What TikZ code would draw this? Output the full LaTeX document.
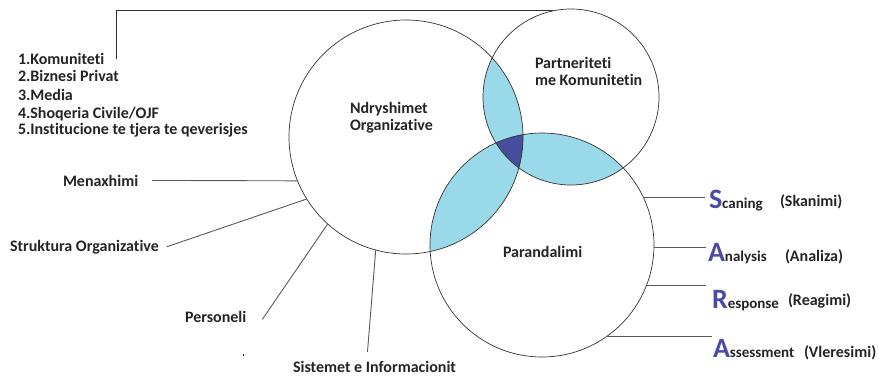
\documentclass[tikz,border=0pt]{standalone}
\usepackage{fontspec}
\setmainfont{Carlito}[Ligatures={NoCommon}]
\usetikzlibrary{positioning}

\definecolor{lensblue}{RGB}{153,217,234}
\definecolor{coreblue}{RGB}{72,78,158}
\definecolor{saraletter}{RGB}{75,75,165}
\definecolor{inkgray}{RGB}{35,35,40}

\begin{document}
\begin{tikzpicture}[x=1pt, y=-1pt,
  ring/.style={circle, draw=black!80, line width=0.7pt, inner sep=0, outer sep=0},
  lbl/.style={font=\fontsize{16}{17}\selectfont\bfseries, text=inkgray, inner sep=0, outer sep=0},
  tie/.style={draw=black!65, line width=0.9pt}]

\useasboundingbox (0,0) rectangle (879,376);

% centres of the three circles
\coordinate (orgc) at (406,137);
\coordinate (parc) at (571,97);
\coordinate (prvc) at (542,245);

% lenses
\begin{scope}
  \clip (orgc) circle (117pt);
  \fill [lensblue] (parc) circle (88pt);
\end{scope}
\begin{scope}
  \clip (orgc) circle (117pt);
  \fill [lensblue] (prvc) circle (112pt);
\end{scope}
\begin{scope}
  \clip (parc) circle (88pt);
  \fill [lensblue] (prvc) circle (112pt);
\end{scope}
\begin{scope}
  \clip (orgc) circle (117pt);
  \clip (parc) circle (88pt);
  \fill [coreblue] (prvc) circle (112pt);
\end{scope}

% circles
\node [ring, minimum size=234pt] (org) at (orgc) {};
\node [ring, minimum size=176pt] (part) at (parc) {};
\node [ring, minimum size=224pt] (prev) at (prvc) {};

% circle titles
\node [lbl, align=left, anchor=base west] (orgtxt) at (350,130) {Ndryshimet\\Organizative};
\node [lbl, align=left, anchor=base west] (parttxt) at (535,85) {Partneriteti\\me Komunitetin};
\node [lbl, anchor=base west] (prevtxt) at (503,257) {Parandalimi};

% partners list
\node [lbl, anchor=base west] (k1) at (18,64) {1.Komuniteti};
\node [lbl, anchor=base west] (k2) at (18,81) {2.Biznesi Privat};
\node [lbl, anchor=base west] (k3) at (18,100) {3.Media};
\node [lbl, anchor=base west] (k4) at (18,118) {4.Shoqeria Civile/OJF};
\node [lbl, anchor=base west] (k5) at (18,134) {5.Institucione te tjera te qeverisjes};

\draw [tie, black!80] ([xshift=98pt,yshift=-6pt]k1.north west) |- (part.102);

% organisation side
\node [lbl, anchor=base west] (menax) at (63,186) {Menaxhimi};
\node [lbl, anchor=base west] (strukt) at (10,251) {Struktura Organizative};
\node [lbl, anchor=base west] (pers) at (185,322) {Personeli};
\node [lbl, anchor=base west] (sist) at (293,372) {Sistemet e Informacionit};
\fill [inkgray] (242.5,354) rectangle (244,355.5);

\draw [tie] ([xshift=14pt]menax.east) -- (org.202);
\draw [tie] ([xshift=8pt]strukt.east) -- (org.212.5);
\draw [tie] ([xshift=16pt,yshift=-3pt]pers.east) -- (org.228.5);
\draw [tie] ([xshift=-7pt,yshift=9pt]sist.north) -- (org.255.5);

% SARA
\newcommand{\saraword}[2]{{\textcolor{saraletter}{\fontsize{28}{28}\selectfont #1}\fontsize{15}{15}\selectfont #2}}
\node [lbl, anchor=base west] (scan) at (709,208) {\saraword{S}{caning}};
\node [lbl, anchor=base west] (anal) at (708,261) {\saraword{A}{nalysis}};
\node [lbl, anchor=base west] (resp) at (712,308) {\saraword{R}{esponse}};
\node [lbl, anchor=base west] (asse) at (713,357) {\saraword{A}{ssessment}};

\node [lbl, anchor=base west] (scanal) at (780,206) {(Skanimi)};
\node [lbl, anchor=base west] (analal) at (785,261) {(Analiza)};
\node [lbl, anchor=base west] (respal) at (788,305) {(Reagimi)};
\node [lbl, anchor=base west] (asseal) at (804,357) {(Vleresimi)};

\draw [tie] (prev.25) -- ([xshift=-4pt]prev.25 -| scan.west);
\draw [tie] (prev.-1) -- ([xshift=-2pt]prev.-1 -| anal.west);
\draw [tie] (prev.-21.5) -- ([xshift=-6pt]prev.-21.5 -| resp.west);
\draw [tie] (prev.-55) -- ([xshift=-1pt]prev.-55 -| asse.west);

\end{tikzpicture}
\end{document}
